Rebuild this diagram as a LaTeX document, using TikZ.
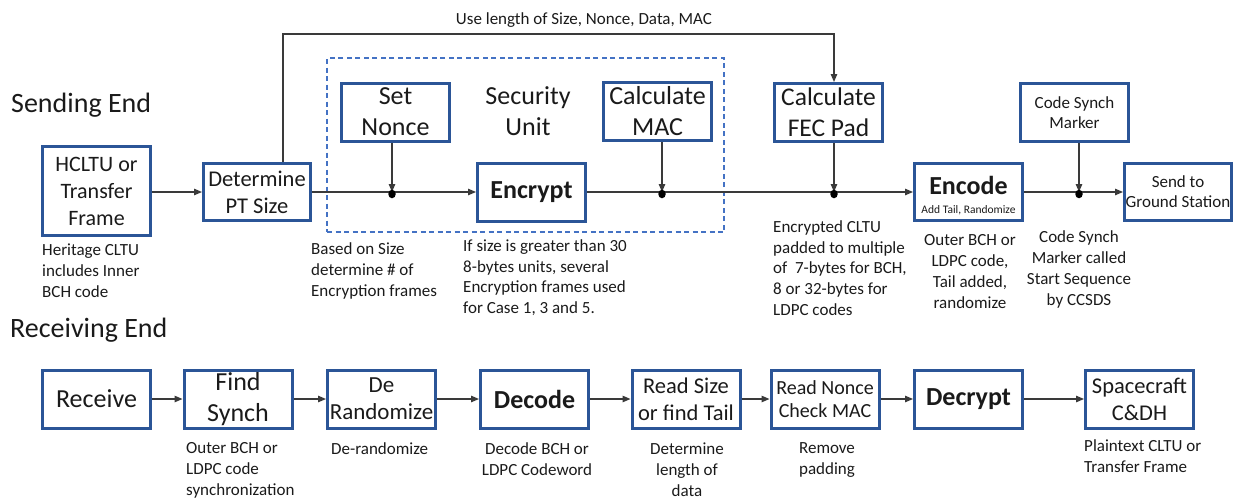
\documentclass[tikz,border=0pt]{standalone}
\usepackage{fontspec}
\setmainfont{Carlito}
\usetikzlibrary{arrows.meta,shapes.geometric}
\definecolor{boxblue}{HTML}{2B5597}
\definecolor{dashblue}{HTML}{4472C4}
\definecolor{wire}{HTML}{3A3A3A}
\definecolor{ink}{HTML}{1A1A1A}

\begin{document}
\begin{tikzpicture}[x=1pt,y=-1pt,
  box/.style={draw=boxblue, line width=3pt, inner sep=0pt, minimum width=108pt,
    minimum height=58pt, align=center, text=ink},
  big/.style={font=\fontsize{26}{31}\selectfont},
  bigbold/.style={font=\fontsize{26}{31}\selectfont\bfseries},
  mid/.style={font=\fontsize{22.5}{27}\selectfont},
  small/.style={font=\fontsize{17}{20}\selectfont},
  note/.style={inner sep=0pt, font=\fontsize{17}{21}\selectfont, text=ink},
  heading/.style={inner sep=0pt, font=\fontsize{28}{32}\selectfont, text=ink, anchor=west},
  flow/.style={draw=wire, line width=1.2pt, -{Triangle[length=8pt,width=6.5pt]}},
  jdot/.style={ellipse, fill=black, inner sep=0pt, minimum width=7.5pt, minimum height=8.5pt},
  secbox/.style={draw=dashblue, line width=1.3pt, dash pattern=on 5pt off 3.5pt,
    inner sep=0pt, minimum width=397pt, minimum height=174pt}
]
\useasboundingbox (0,0) rectangle (1239,499);

% ---------------- Sending end ----------------
\node[heading] (sendhead) at (11,105) {Sending End};

\node[secbox] (secunit) at (525.5,145) {};
\node[big, inner sep=0pt, align=center, text=ink] (seclabel) at (528,111.5) {Security\\Unit};

\node[box, minimum height=89pt, font=\fontsize{22}{27}\selectfont] (hcltu) at (96.5,191) {HCLTU or\\Transfer\\Frame};
\node[box, mid, minimum width=107pt, minimum height=57pt] (ptsize) at (257,192) {Determine\\PT Size};
\node[box, big] (nonce) at (395.5,112) {Set\\Nonce};
\node[box, big] (mac) at (657.5,111.5) {Calculate\\MAC};
\node[box, bigbold] (encrypt) at (531.5,192) {Encrypt};
\node[box, font=\fontsize{25.5}{31}\selectfont] (fec) at (828.5,112.5) {Calculate\\FEC Pad};
\node[box, minimum height=57pt, font=\fontsize{11.5}{19}\selectfont] (encode) at (968.5,192)
  {\rule{0pt}{26pt}{\fontsize{26}{19}\selectfont\bfseries Encode}\\Add Tail, Randomize};
\node[box, small] (csm) at (1074.5,112.5) {Code Synch\\Marker};
\node[box, small, minimum width=107pt, minimum height=57pt] (send) at (1178,192) {Send to\\Ground Station};

% junction points on the main line
\coordinate (c1) at (392,192);
\coordinate (c2) at (662,192);
\coordinate (c3) at (834,192);
\coordinate (c4) at (1079,192);

% main data path
\draw[flow] (ptsize.west -| hcltu.east) -- (ptsize.west);
\draw[flow] (ptsize.east) -- (encrypt.west);
\draw[flow] (encrypt.east) -- (encode.west);
\draw[flow] (encode.east) -- (send.west);

% side inputs joining the main path
\draw[flow] (nonce.south -| c1) -- (c1);
\draw[flow] (mac.south -| c2) -- (c2);
\draw[flow] (fec.south -| c3) -- (c3);
\draw[flow] (csm.south -| c4) -- (c4);

% junction dots
\node[jdot] (j1) at (392,194) {};
\node[jdot] (j2) at (662,194) {};
\node[jdot] (j3) at (834,194) {};
\node[jdot] (j4) at (1079,194) {};

% length feed to the FEC pad calculation
\coordinate (t1) at (283,34);
\coordinate (t2) at (834,34);
\draw[flow] (ptsize.north -| t1) -- (t1) -- (t2) -- (fec.north -| t2);
\node[note, anchor=base] (uselen) at (584,24.5) {Use length of Size, Nonce, Data, MAC};

% notes below the sending blocks
\node[note, anchor=north west, align=left] (n1) at (42,243.5) {Heritage CLTU\\includes Inner\\BCH code};
\node[note, anchor=north west, align=left] (n2) at (311,242.5) {Based on Size\\determine \# of\\Encryption frames};
\node[note, anchor=north west, align=left, font=\fontsize{17}{20.7}\selectfont] (n3) at (463,239.5)
  {If size is greater than 30\\8-bytes units, several\\Encryption frames used\\for Case 1, 3 and 5.};
\node[note, anchor=north west, align=left, font=\fontsize{17}{20.7}\selectfont] (n4) at (773,220.5)
  {Encrypted CLTU\\padded to multiple\\of\ \ 7-bytes for BCH,\\8 or 32-bytes for\\LDPC codes};
\node[note, anchor=north, align=center] (n5) at (970,234.5) {Outer BCH or\\LDPC code,\\Tail added,\\randomize};
\node[note, anchor=north, align=center] (n6) at (1079,230.5) {Code Synch\\Marker called\\Start Sequence\\by CCSDS};

% ---------------- Receiving end ----------------
\node[heading] (recvhead) at (10,330) {Receiving End};

\node[box, big] (recv) at (96.5,399) {Receive};
\node[box, big] (synch) at (238,399) {Find\\Synch};
\node[box, font=\fontsize{23}{27}\selectfont] (derand) at (381.5,399) {De\\Randomize};
\node[box, bigbold] (decode) at (534.5,399) {Decode};
\node[box, mid] (readsize) at (686,399) {Read Size\\or find Tail};
\node[box, font=\fontsize{20}{23.5}\selectfont] (readnonce) at (825,399) {Read Nonce\\Check MAC};
\node[box, bigbold] (decrypt) at (968.5,399) {Decrypt};
\node[box, mid] (craft) at (1139.5,399) {Spacecraft\\C\&DH};

\draw[flow] (recv) -- (synch);
\draw[flow] (synch) -- (derand);
\draw[flow] (derand) -- (decode);
\draw[flow] (decode) -- (readsize);
\draw[flow] (readsize) -- (readnonce);
\draw[flow] (readnonce) -- (decrypt);
\draw[flow] (decrypt) -- (craft);

\node[note, anchor=north west, align=left] (r1) at (186,442.5) {Outer BCH or\\LDPC code\\synchronization};
\node[note, anchor=north west, align=left] (r2) at (331,442.5) {De-randomize};
\node[note, anchor=north, align=center] (r3) at (537,442.5) {Decode BCH or\\LDPC Codeword};
\node[note, anchor=north, align=center] (r4) at (687,442.5) {Determine\\length of\\data};
\node[note, anchor=north, align=center] (r5) at (827,442.5) {Remove\\padding};
\node[note, anchor=north west, align=left] (r6) at (1084,439.5) {Plaintext CLTU or\\Transfer Frame};
\end{tikzpicture}
\end{document}
